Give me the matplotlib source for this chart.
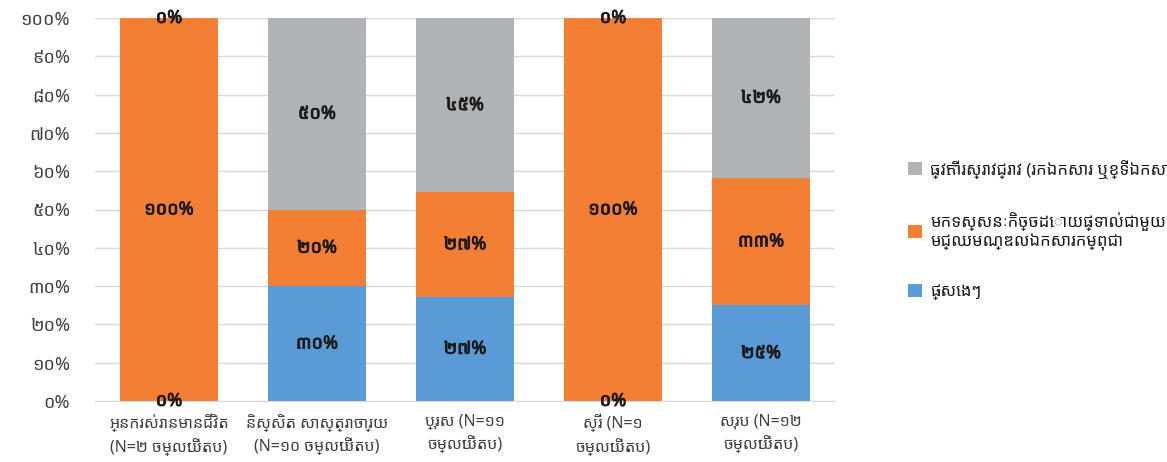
import numpy as np
import matplotlib
matplotlib.use("Agg")
import matplotlib.pyplot as plt
import matplotlib.patheffects as pe
from matplotlib import font_manager

# Datos del gráfico
categorias = ["អ្នករស់រានមានជីវិត\n(N=២ ចម្លើយតប)",
              "និស្សិត សាស្ត្រាចារ្យ\n(N=១០ ចម្លើយតប)",
              "ប្រុស (N=១១\nចម្លើយតប)",
              "ស្រី (N=១\nចម្លើយតប)",
              "សរុប (N=១២\nចម្លើយតប)"]
ផ្សេងៗ = [0, 30, 27.27, 0, 25]
ទស្សនកិច្ច = [100, 20, 27.27, 100, 33.33]
ស្រាវជ្រាវ = [0, 50, 45.45, 0, 41.67]
etiquetas_azul = ["០%", "៣០%", "២៧%", "០%", "២៥%"]
etiquetas_naranja = ["១០០%", "២០%", "២៧%", "១០០%", "៣៣%"]
etiquetas_gris = ["០%", "៥០%", "៤៥%", "០%", "៤២%"]
yticks = [0, 10, 20, 30, 40, 50, 60, 70, 80, 90, 100]
ytick_labels = ["០%", "១០%", "២០%", "៣០%", "៤០%", "៥០%", "៦០%", "៧០%", "៨០%", "៩០%", "១០០%"]
leyenda = ["ធ្វើការស្រាវជ្រាវ (រកឯកសារ ឬខ្ទីឯកសារ)",
           "មកទស្សនៈកិច្ចដោយផ្ទាល់ជាមួយ\nមជ្ឈមណ្ឌលឯកសារកម្ពុជា",
           "ផ្សេងៗ"]

# Buscar una fuente jemer (preferir sans)
khmer = sorted({f.name for f in font_manager.fontManager.ttflist if "khmer" in f.name.lower()})
pref = [n for n in khmer if "sans" in n.lower()] + khmer
familias = ([pref[0]] if pref else []) + ["DejaVu Sans"]
plt.rcParams["font.family"] = familias

c_azul = "#5A9BD5"
c_naranja = "#F37F35"
c_gris = "#B0B3B6"

fig = plt.figure(figsize=(11.67, 4.62), dpi=100)
ax = fig.add_axes([95 / 1167, 1 - 401 / 462, 740 / 1167, (401 - 18) / 462])

x = np.arange(len(categorias))
ancho = 0.66
azul = np.array(ផ្សេងៗ)
naranja = np.array(ទស្សនកិច្ច)
gris = np.array(ស្រាវជ្រាវ)

ax.bar(x, azul, ancho, color=c_azul, label=leyenda[2], zorder=2)
ax.bar(x, naranja, ancho, bottom=azul, color=c_naranja, label=leyenda[1], zorder=2)
ax.bar(x, gris, ancho, bottom=azul + naranja, color=c_gris, label=leyenda[0], zorder=2)

# Etiquetas de datos (negrita simulada con trazo)
negrita = [pe.withStroke(linewidth=0.6, foreground="#1a1a1a")]
for i in range(len(x)):
    posiciones = [azul[i] / 2, azul[i] + naranja[i] / 2, azul[i] + naranja[i] + gris[i] / 2]
    textos = [etiquetas_azul[i], etiquetas_naranja[i], etiquetas_gris[i]]
    for yy, t in zip(posiciones, textos):
        ax.text(x[i], yy, t, ha="center", va="center", fontsize=13,
                color="#1a1a1a", zorder=3, path_effects=negrita)

ax.set_xlim(-0.5, len(x) - 0.5)
ax.set_ylim(0, 100)
ax.set_yticks(yticks)
ax.set_yticklabels(ytick_labels, fontsize=13, color="#404040")
ax.set_xticks(x)
ax.set_xticklabels(categorias, fontsize=11.5, color="#404040", linespacing=1.4)
ax.tick_params(axis="y", length=0, pad=18)
ax.tick_params(axis="x", length=0, pad=9)
ax.grid(axis="y", color="#d9d9d9", linewidth=1, zorder=0)
for s in ["top", "right", "left"]:
    ax.spines[s].set_visible(False)
ax.spines["bottom"].set_color("#d9d9d9")

h, l = ax.get_legend_handles_labels()
fig.legend(h[::-1], l[::-1], loc="center left", bbox_to_anchor=(893 / 1167, 1 - 230 / 462),
           frameon=False, fontsize=12, handlelength=0.85, handleheight=0.85,
           labelspacing=2.0, handletextpad=0.5, labelcolor="#1a1a1a")

fig.savefig("out.png", dpi=100)
